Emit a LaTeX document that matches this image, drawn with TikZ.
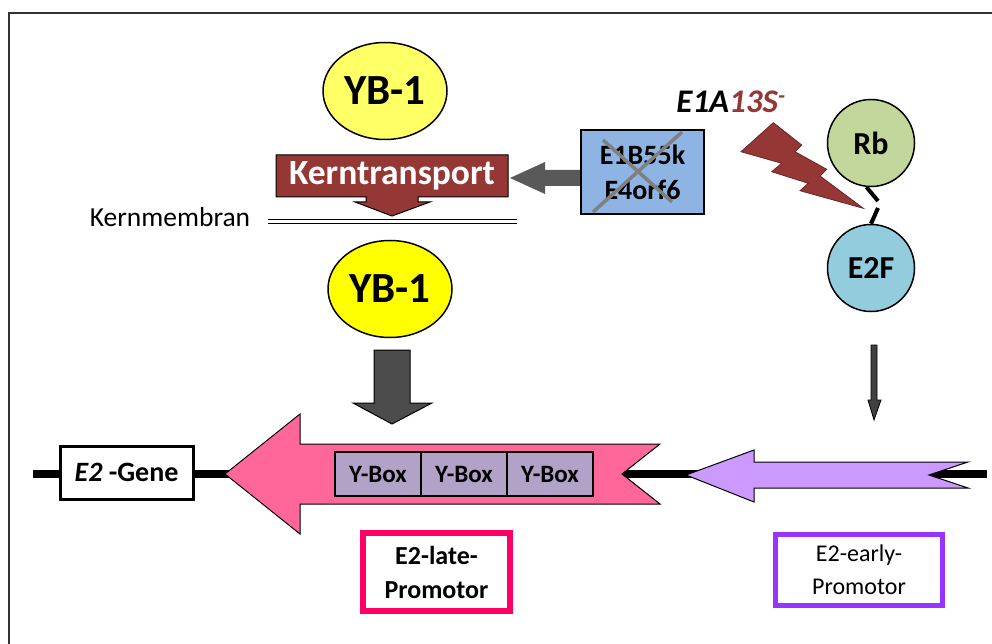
\documentclass[tikz,border=0pt]{standalone}
\usepackage{fontspec}
\setmainfont{Carlito}
\usetikzlibrary{shapes.geometric}
\definecolor{ybtop}{HTML}{FFFF66}
\definecolor{ybbot}{HTML}{FFFF00}
\definecolor{kernred}{HTML}{953735}
\definecolor{eblue}{HTML}{8EB4E3}
\definecolor{rbgreen}{HTML}{C3D69B}
\definecolor{efblue}{HTML}{93CDDD}
\definecolor{yboxc}{HTML}{B3A2C7}
\definecolor{pinkarr}{HTML}{FF6699}
\definecolor{purparr}{HTML}{CC99FF}
\definecolor{latepink}{HTML}{FF0066}
\definecolor{earlypurp}{HTML}{9933FF}
\definecolor{darkgrey}{HTML}{595959}
\definecolor{crossgrey}{HTML}{808080}
\newcommand\fz[2]{\fontsize{#1pt}{#2pt}\selectfont}
\begin{document}
\begin{tikzpicture}[x=1pt,y=-1pt,
  ybell/.style={ellipse, draw, line width=1.5pt, minimum width=124pt, minimum height=97pt, inner sep=0pt, font=\fz{43}{50}\bfseries},
  protcirc/.style={circle, draw, line width=1.5pt, minimum size=87pt, inner sep=0pt, font=\fz{32}{38}\bfseries},
  yboxnode/.style={rectangle, draw, line width=1.5pt, fill=yboxc, minimum width=86pt, minimum height=44pt, inner sep=0pt, font=\fz{25}{30}\bfseries},
  shapeborder/.style={draw=black, line width=1pt}
]
\useasboundingbox (0,0) rectangle (992,644);
% frame
\draw[line width=1.3pt, black!80] (9,644) -- (9,13) -- (992,13);

% gene line
\coordinate (gl) at (33,474);
\coordinate (gr) at (987,474);
\draw[line width=8pt] (gl) -- (gr);

% YB-1 top
\node[ybell, fill=ybtop] (yba) at (385,91) {YB-1};

% Kerntransport shape
\draw[shapeborder, fill=kernred] (276,155) -- (508,155) -- (508,197) -- (418,197) -- (418,202) -- (430,202) -- (392,216) -- (355,202) -- (366,202) -- (366,197) -- (276,197) -- cycle;
\node[text=white, font=\fz{35.5}{40}\bfseries] (kt) at (392,176) {Kerntransport};

% Kernmembran
\coordinate (km1) at (268,221.5);
\coordinate (km2) at (517,221.5);
\draw[double, double distance=2.4pt, line width=1.1pt] (km1) -- (km2);
\node[font=\fz{27.5}{32}, anchor=base] (kmlabel) at (170,227) {Kernmembran};

% grey arrow to the left
\fill[darkgrey] (510,178) -- (545,162) -- (545,170) -- (582,170) -- (582,186) -- (545,186) -- (545,194) -- cycle;

% E1B55k box
\node[rectangle, draw, line width=2pt, fill=eblue, minimum width=123pt, minimum height=84pt, inner sep=0pt, align=center, font=\fz{28}{35}\bfseries] (e1b) at (642.5,172) {E1B55k\\E4orf6};
\draw[crossgrey, line width=3.5pt] (593,212) -- (682,132);
\draw[crossgrey, line width=3.5pt] (603,140) -- (672,202);

% E1A13S label
\node[font=\fz{33}{38}\bfseries\itshape, anchor=base] (e1a) at (731,113) {E1A\textcolor{kernred}{13S}\textsuperscript{\textcolor{kernred}{-}}};

% lightning
\draw[fill=kernred, draw=kernred!70!black, line width=0.8pt] (741,151.7) -- (773.3,122.7) -- (801.7,145) -- (795,151.7) -- (826.7,169.3) -- (820,176) -- (863.3,208.3) -- (800,190.7) -- (808.3,183.3) -- (771.7,171.7) -- (781.7,163.3) -- cycle;

% Rb and E2F
\node[protcirc, fill=rbgreen] (rb) at (871,143) {Rb};
\node[protcirc, fill=efblue] (e2f) at (871,268) {E2F};
\coordinate (bk1) at (878,201);
\coordinate (bk2) at (878,208);
\draw[line width=4pt] (rb.-96) -- (bk1);
\draw[line width=4pt] (bk2) -- (e2f.north);

% small arrow under E2F
\draw[line width=0.8pt, fill=black!75] (871,345) -- (877,345) -- (877,400) -- (881,400) -- (874,420) -- (868,400) -- (871,400) -- cycle;

% YB-1 lower
\node[ybell, fill=ybbot] (ybb) at (390,289) {YB-1};

% big grey down arrow
\draw[shapeborder, fill=black!70] (374,350) -- (410,350) -- (410,403) -- (432,403) -- (392,424) -- (353,403) -- (374,403) -- cycle;

% E2-Gene box
\node[rectangle, draw, line width=3pt, fill=white, minimum width=133pt, minimum height=53pt, inner sep=0pt, font=\fz{28}{34}\bfseries] (gene) at (126.5,472.5) {\textit{E2} -Gene};

% pink arrow (E2-late promoter)
\draw[shapeborder, fill=pinkarr] (225,474) -- (300,414) -- (300,444) -- (660,444) -- (622,474) -- (660,504) -- (300,504) -- (300,534) -- cycle;
\node[yboxnode] (yb1) at (378,474) {Y-Box};
\node[yboxnode] (yb2) at (464,474) {Y-Box};
\node[yboxnode] (yb3) at (550,474) {Y-Box};

% purple arrow (E2-early promoter)
\draw[shapeborder, fill=purparr] (686,475) -- (754,450) -- (754,462) -- (968,462) -- (929,475) -- (968,488) -- (754,488) -- (754,502) -- cycle;

% labels
\node[rectangle, draw=latepink, line width=6pt, minimum width=147pt, minimum height=78pt, inner sep=0pt, align=center, font=\fz{26}{34}\bfseries] (late) at (436.5,572) {E2-late-\\Promotor};
\node[rectangle, draw=earlypurp, line width=5pt, minimum width=167pt, minimum height=71pt, inner sep=0pt, align=center, font=\fz{24}{33}] (early) at (859,570) {E2-early-\\Promotor};
\end{tikzpicture}
\end{document}
